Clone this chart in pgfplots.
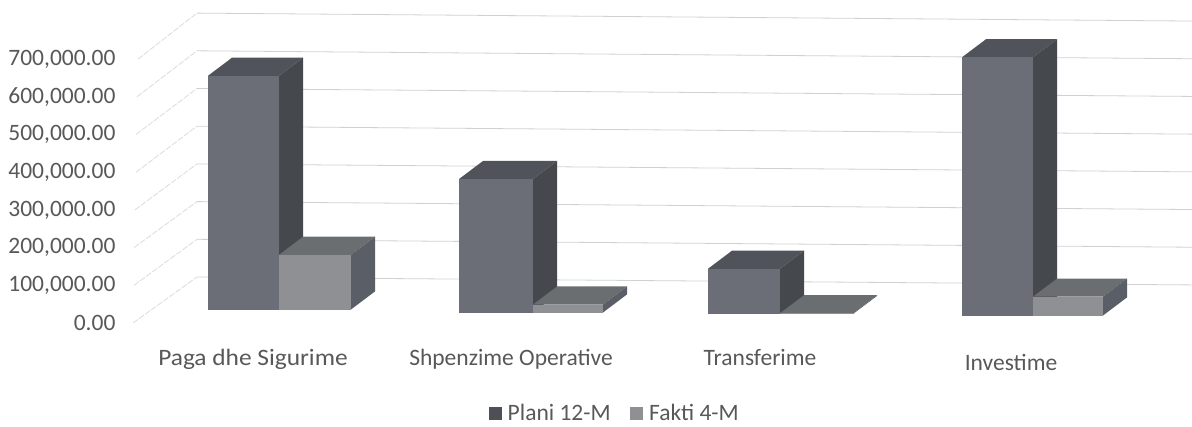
\documentclass[border=0pt]{standalone}
\usepackage{fontspec}
\setmainfont{Carlito}
\usepackage{pgfplots}
\pgfplotsset{compat=1.18}
\definecolor{txt}{HTML}{585858}
\definecolor{gridc}{HTML}{D0D2D2}
\definecolor{gridf}{HTML}{DADCDC}
\definecolor{pfront}{HTML}{6B6E76}
\definecolor{ptop}{HTML}{50545A}
\definecolor{pside}{HTML}{45484C}
\definecolor{ffront}{HTML}{8E9094}
\definecolor{ftop}{HTML}{6A6E70}
\definecolor{fside}{HTML}{5A5E66}
% #1 left px, #2 right px, #3 floor row px, #4 value in thousands, #5 front, #6 top, #7 side
\newcommand{\threedbar}[7]{%
  \pgfmathsetmacro{\bs}{(323-#3)/0.377}%
  \pgfmathsetmacro{\tp}{\bs+#4}%
  \pgfmathsetmacro{\dx}{24}%
  \pgfmathsetmacro{\dy}{48}%
  \pgfmathsetmacro{\xa}{#1+\dx}%
  \pgfmathsetmacro{\xb}{#2+\dx}%
  \pgfmathsetmacro{\ta}{\tp+\dy}%
  \pgfmathsetmacro{\ba}{\bs+\dy}%
  \addplot[fill=#6,draw=none,forget plot] coordinates {(#1,\tp) (#2,\tp) (\xb,\ta) (\xa,\ta)} -- cycle;
  \addplot[fill=#7,draw=none,forget plot] coordinates {(#2,\bs) (\xb,\ba) (\xb,\ta) (#2,\tp)} -- cycle;
  \addplot[fill=#5,draw=none,forget plot] coordinates {(#1,\bs) (#2,\bs) (#2,\tp) (#1,\tp)} -- cycle;
}
\begin{document}
\begin{tikzpicture}
\begin{axis}[
  width=1192pt,height=423pt,scale only axis,
  xmin=0,xmax=1192,ymin=-265.25,ymax=856.8,
  axis line style={draw=none},tick style={draw=none},
  font=\fontsize{23.5}{28}\selectfont\color{txt},
  ytick={0,100,200,300,400,500,600,700},
  yticklabels={{0.00},{100,000.00},{200,000.00},{300,000.00},{400,000.00},{500,000.00},{600,000.00},{700,000.00}},
  yticklabel style={anchor=east,xshift=119pt},
  xtick={253,511,760,1011},
  xticklabels={\scalebox{1.08}[1]{Paga dhe Sigurime},Shpenzime Operative,Transferime,\raisebox{-5pt}{Investime}},
  xticklabel style={anchor=base,yshift=57.5pt},
  legend columns=2,
  legend style={at={(axis cs:615,-239)},anchor=center,draw=none,fill=none,font=\fontsize{23.5}{28}\selectfont\color{txt},
    column sep=4.5pt,/tikz/every even column/.append style={column sep=18pt}},
  legend cell align=left,
]
\addlegendimage{only marks,mark=square*,mark size=6pt,color=pside!80!pfront}
\addlegendentry{Plani 12-M}
\addlegendimage{only marks,mark=square*,mark size=6pt,color=ffront}
\addlegendentry{Fakti 4-M}
\addplot[gridf,line width=0.8pt,dash pattern=on 6pt off 1.5pt,forget plot] coordinates {(133,0) (197,122)};
\addplot[gridf,line width=0.8pt,dash pattern=on 6pt off 1.5pt,forget plot] coordinates {(134,100) (197,222)};
\addplot[gridf,line width=0.8pt,dash pattern=on 6pt off 1.5pt,forget plot] coordinates {(134,200) (197,322)};
\addplot[gridf,line width=0.8pt,dash pattern=on 6pt off 1.5pt,forget plot] coordinates {(135,300) (197,422)};
\addplot[gridf,line width=0.8pt,dash pattern=on 6pt off 1.5pt,forget plot] coordinates {(136,400) (197,522)};
\addplot[gridf,line width=0.8pt,dash pattern=on 6pt off 1.5pt,forget plot] coordinates {(136,500) (197,622)};
\addplot[gridf,line width=0.8pt,dash pattern=on 6pt off 1.5pt,forget plot] coordinates {(137,600) (197,722)};
\addplot[gridf,line width=0.8pt,dash pattern=on 6pt off 1.5pt,forget plot] coordinates {(138,700) (197,822)};
\addplot[gridc,line width=0.8pt,forget plot] coordinates {(197,122) (1192,101)};
\addplot[gridc,line width=0.8pt,forget plot] coordinates {(197,222) (1192,201)};
\addplot[gridc,line width=0.8pt,forget plot] coordinates {(197,322) (1192,301)};
\addplot[gridc,line width=0.8pt,forget plot] coordinates {(197,422) (1192,401)};
\addplot[gridc,line width=0.8pt,forget plot] coordinates {(197,522) (1192,501)};
\addplot[gridc,line width=0.8pt,forget plot] coordinates {(197,622) (1192,601)};
\addplot[gridc,line width=0.8pt,forget plot] coordinates {(197,722) (1192,701)};
\addplot[gridc,line width=0.8pt,forget plot] coordinates {(197,822) (1192,801)};
\threedbar{208}{279}{309.5}{620}{pfront}{ptop}{pside}
\threedbar{279}{351}{309.5}{145}{ffront}{ftop}{fside}
\threedbar{459}{533}{312.5}{354}{pfront}{ptop}{pside}
\threedbar{533}{603}{312.5}{21}{ffront}{ftop}{fside}
\threedbar{708}{780}{314}{120}{pfront}{ptop}{pside}
\threedbar{780}{853}{314}{2}{ffront}{ftop}{fside}
\threedbar{962}{1033}{315.5}{685}{pfront}{ptop}{pside}
\threedbar{1033}{1103}{315.5}{50}{ffront}{ftop}{fside}
\end{axis}
\end{tikzpicture}
\end{document}
